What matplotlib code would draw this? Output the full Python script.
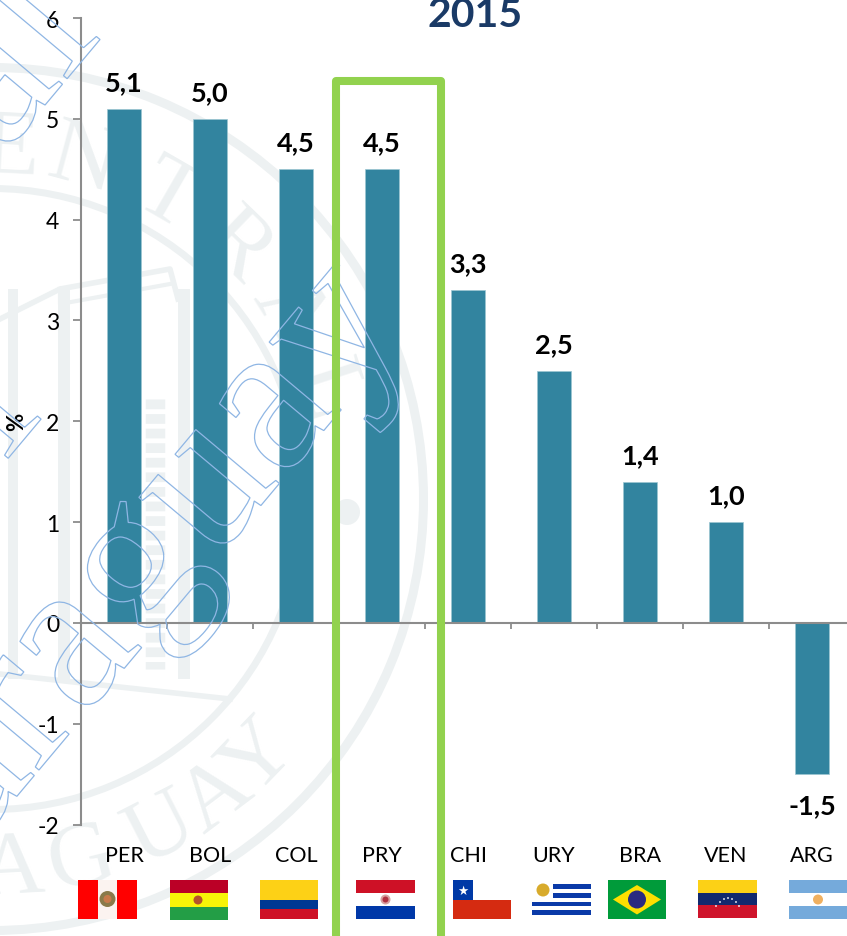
import numpy as np
import matplotlib
matplotlib.use("Agg")
import matplotlib.pyplot as plt
from matplotlib.patches import Circle, PathPatch, Polygon, Rectangle, Wedge
from matplotlib.textpath import TextPath
from matplotlib.font_manager import FontProperties
from matplotlib.transforms import Affine2D

W, H = 847, 937
plt.rcParams['font.family'] = ['Lato', 'DejaVu Sans']
plt.rcParams['axes.unicode_minus'] = False

countries = ['PER', 'BOL', 'COL', 'PRY', 'CHI', 'URY', 'BRA', 'VEN', 'ARG']
growth = [5.1, 5.0, 4.5, 4.5, 3.3, 2.5, 1.4, 1.0, -1.5]
labels = ['5,1', '5,0', '4,5', '4,5', '3,3', '2,5', '1,4', '1,0', '-1,5']
yticks = [-2, -1, 0, 1, 2, 3, 4, 5, 6]

BAR = '#32849f'
GREY = '#8c8c8c'
GREEN = '#92d24e'
SEAL = '#edf1f2'
WM = '#8fb6e4'

fig = plt.figure(figsize=(W / 100, H / 100), dpi=100, facecolor='white')


def py(y):
    return H - y


def full_axes(z):
    a = fig.add_axes([0, 0, 1, 1], zorder=z)
    a.set_xlim(0, W)
    a.set_ylim(0, H)
    a.axis('off')
    a.patch.set_alpha(0)
    return a


# seal in the background
bg = full_axes(0)
cx, cy = -8, 500
for r, w in [(436, 9), (314, 7)]:
    bg.add_patch(Wedge((cx, py(cy)), r, 0, 360, width=w, color=SEAL, lw=0))
bg.add_patch(Circle((347, py(513)), 13, color=SEAL, lw=0))

serif = FontProperties(family='Liberation Serif')
seal_top = [('E', 3), ('N', 15), ('T', 30), ('R', 44), ('A', 58), ('L', 72)]
seal_bottom = [('Y', 134), ('A', 143), ('U', 153), ('G', 166), ('A', 177)]
for ch, a in seal_top:
    s, c = np.sin(np.radians(a)), np.cos(np.radians(a))
    bg.text(cx + 350 * s, py(cy) + 350 * c, ch, rotation=-a, rotation_mode='anchor', ha='center', va='center',
            fontproperties=serif, fontsize=68, color=SEAL)
for ch, a in seal_bottom:
    s, c = np.sin(np.radians(a)), np.cos(np.radians(a))
    bg.text(cx + 372 * s, py(cy) + 372 * c, ch, rotation=180 - a, rotation_mode='anchor', ha='center', va='center',
            fontproperties=serif, fontsize=66, color=SEAL)

# rough building inside the seal
for x0, x1 in [(8, 18), (58, 70), (178, 190)]:
    bg.add_patch(Rectangle((x0, py(680)), x1 - x0, 390, color=SEAL, lw=0))
bg.plot([155, 155], [py(400), py(670)], color=SEAL, lw=14, ls=(0, (0.5, 0.25)))
bg.plot([0, 60, 170, 178], [py(320), py(290), py(270), py(300)], color=SEAL, lw=4)
bg.plot([60, 60, 170], [py(290), py(305), py(285)], color=SEAL, lw=3)
bg.plot([0, 230], [py(675), py(700)], color=SEAL, lw=4)

# chart
ax = fig.add_axes([81 / W, (H - 825.5) / H, (W - 81) / W, (825.5 - 19) / H], zorder=1)
ax.patch.set_alpha(0)
xpos = list(range(len(countries)))
ax.bar(xpos, growth, width=0.4, color=BAR, edgecolor='#9cc6d2', linewidth=0.5)
ax.set_xlim(-0.5, -0.5 + (W - 81) / 86)
ax.set_ylim(-2, 6)
ax.spines['top'].set_visible(False)
ax.spines['right'].set_visible(False)
ax.spines['bottom'].set_position(('data', 0))
for s in ['left', 'bottom']:
    ax.spines[s].set_color(GREY)
    ax.spines[s].set_linewidth(1.5)
ax.set_yticks(yticks)
ax.set_yticklabels([str(v) for v in yticks], fontsize=16.5, color='black')
ax.set_xticks([i + 0.5 for i in xpos[:-1]])
ax.set_xticklabels([])
ax.tick_params(axis='y', length=5.8, width=1.3, color=GREY, pad=10)
ax.tick_params(axis='x', length=4.5, width=1.3, color=GREY, direction='out')
ax.set_ylabel('%', fontsize=16, fontweight='bold', va='center')
ax.yaxis.set_label_coords((17 - 81) / (W - 81), (825.5 - 422) / (825.5 - 19))

for x, v, t in zip(xpos, growth, labels):
    off = 27 if v >= 0 else -31
    ax.annotate(t, (x, v), xytext=(0, off), textcoords='offset pixels', ha='center', va='center',
                fontsize=19.5, fontweight='bold', annotation_clip=False)
for x, c in zip(xpos, countries):
    ax.annotate(c, (x, -2), xytext=(0, -31), textcoords='offset pixels', ha='center', va='center',
                fontsize=15.5, annotation_clip=False)

# overlay: highlight box, flags, watermark, title
top = full_axes(2)
top.plot([336, 336, 441, 441], [py(945), py(81.5), py(81.5), py(945)], color=GREEN, lw=5.8,
         solid_joinstyle='round')
top.text(475, py(27), '2015', ha='center', va='baseline', fontsize=29.5, fontweight='bold', color='#1a3a66')


def stripes(x0, x1, y0, y1, cols):
    n = sum(c[1] for c in cols)
    y = y0
    for col, part in cols:
        h = (y1 - y0) * part / n
        top.add_patch(Rectangle((x0, py(y + h)), x1 - x0, h, color=col, lw=0))
        y += h


def dot(x, y, r, col):
    top.add_patch(Circle((x, py(y)), r, color=col, lw=0))


# PER
top.add_patch(Rectangle((78, py(920)), 59, 39, color='#ff0000', lw=0))
top.add_patch(Rectangle((98, py(920)), 19, 39, color='#fbf3f0', lw=0))
dot(107.5, 900, 8, '#8a7a4a')
dot(107.5, 900, 4, '#c87a4a')
# BOL
stripes(170, 228, 881, 921, [('#bb0026', 1), ('#f7f408', 1), ('#239e46', 1)])
dot(198, 901, 4.5, '#b5522a')
# COL
stripes(260, 318, 881, 920, [('#fdd116', 2), ('#003893', 1), ('#ce1126', 1)])
# PRY
stripes(356, 415, 881, 920, [('#ce1126', 1), ('#ffffff', 1), ('#0038a8', 1)])
dot(385.5, 900.5, 5, '#d9a0a0')
dot(385.5, 900.5, 3, '#b03040')
# CHI
stripes(453, 511, 881, 920, [('#ffffff', 1), ('#d52b11', 1)])
top.add_patch(Rectangle((453, py(901)), 20, 20, color='#0039a6', lw=0))
top.text(463, py(891), '★', family='DejaVu Sans', fontsize=9, color='white', ha='center', va='center')
# URY
for y0, y1, x0 in [(885, 890, 553), (894, 899, 553), (903, 907, 532), (911, 916, 532)]:
    top.add_patch(Rectangle((x0, py(y1)), 591 - x0, y1 - y0, color='#0a3aa8', lw=0))
dot(543, 891, 6.5, '#d8ab2c')
# BRA
top.add_patch(Rectangle((608, py(920)), 58, 39, color='#009b3a', lw=0))
top.add_patch(Polygon([(613, py(900.5)), (637, py(886)), (661, py(900.5)), (637, py(915.5))], color='#fedf00', lw=0))
dot(637, 900.5, 9, '#2a2a80')
# VEN
stripes(698, 757, 881, 919, [('#fcd116', 1), ('#12296e', 1), ('#cf142b', 1)])
for x, y in zip([716, 720, 724, 728, 732, 736, 739], [907, 903, 900, 899, 900, 903, 907]):
    dot(x, y, 0.9, 'white')
# ARG
stripes(789, 847, 881, 920, [('#75aadb', 1), ('#ffffff', 1), ('#75aadb', 1)])
dot(818, 900.5, 5, '#f0b060')

# outlined watermark lines
for word, ox, oy in [('Paraguay', -102, 939), ('Central del', -304, 522), ('del', -125, 618)]:
    tp = TextPath((0, 0), word, size=215, prop=serif)
    tr = Affine2D().rotate_deg(50).translate(ox, py(oy))
    top.add_patch(PathPatch(tp.transformed(tr), fc='none', ec=WM, lw=0.9))

fig.savefig('out.png', dpi=100)
